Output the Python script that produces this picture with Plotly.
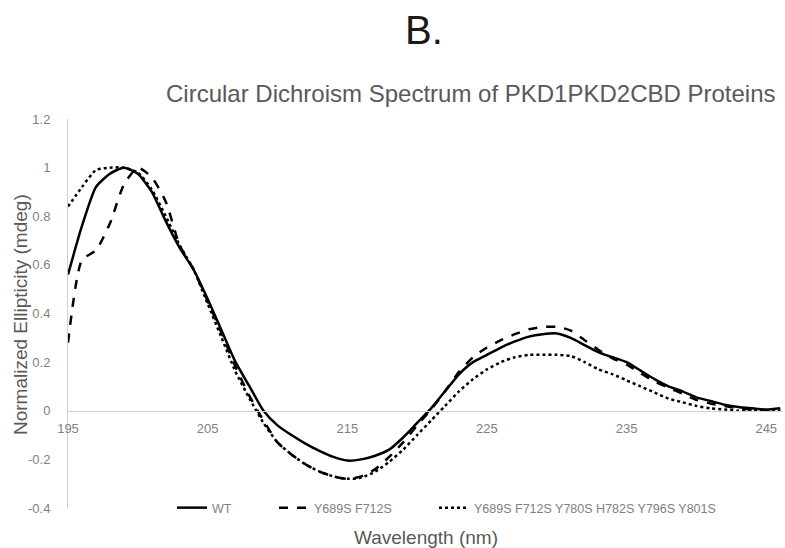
import plotly.graph_objects as go

wavelength = list(range(195, 247))

wt = [0.56, 0.76, 0.92, 0.975, 1.00, 0.975, 0.90, 0.78, 0.67, 0.58,
      0.46, 0.33, 0.20, 0.10, 0.00, -0.06, -0.10, -0.135, -0.165, -0.19,
      -0.205, -0.20, -0.185, -0.16, -0.11, -0.05, 0.01, 0.08, 0.15, 0.20,
      0.23, 0.26, 0.285, 0.305, 0.315, 0.318, 0.30, 0.27, 0.24, 0.22,
      0.20, 0.165, 0.13, 0.10, 0.08, 0.055, 0.04, 0.025, 0.015, 0.01,
      0.005, 0.01]

mut2 = [0.28, 0.62, 0.66, 0.77, 0.93, 1.00, 0.96, 0.86, 0.68, 0.58,
        0.45, 0.32, 0.18, 0.06, -0.04, -0.13, -0.18, -0.22, -0.25, -0.27,
        -0.28, -0.27, -0.24, -0.19, -0.13, -0.06, 0.005, 0.08, 0.16, 0.22,
        0.26, 0.29, 0.315, 0.335, 0.345, 0.345, 0.33, 0.29, 0.25, 0.215,
        0.19, 0.155, 0.12, 0.095, 0.07, 0.045, 0.03, 0.02, 0.01, 0.005,
        0.0, 0.005]

mut6 = [0.84, 0.92, 0.99, 1.00, 1.00, 0.98, 0.91, 0.80, 0.68, 0.58,
        0.44, 0.30, 0.16, 0.05, -0.05, -0.13, -0.18, -0.22, -0.25, -0.27,
        -0.28, -0.275, -0.25, -0.21, -0.16, -0.10, -0.04, 0.02, 0.08, 0.13,
        0.17, 0.20, 0.22, 0.23, 0.23, 0.23, 0.225, 0.20, 0.17, 0.15,
        0.125, 0.10, 0.075, 0.05, 0.035, 0.02, 0.01, 0.005, 0.0, 0.0,
        0.0, 0.0]

names = ["WT", "Y689S F712S", "Y689S F712S Y780S H782S Y796S Y801S"]
yticks = [1.2, 1.0, 0.8, 0.6, 0.4, 0.2, 0.0, -0.2, -0.4]
yticktext = ["1.2", "1", "0.8", "0.6", "0.4", "0.2", "0", "-0.2", "-0.4"]
xticks = [195, 205, 215, 225, 235, 245]

FONT = "Liberation Sans, Arial, sans-serif"
GRAY = "#808080"
DGRAY = "#595959"

W, H = 785, 548
L, R, T, B = 68, 2, 119, 40
PW, PH = W - L - R, H - T - B

fig = go.Figure()
fig.add_trace(go.Scatter(x=wavelength, y=wt, mode="lines", name=names[0],
                         line=dict(color="black", width=2.5, shape="spline", smoothing=0.6),
                         legend="legend"))
fig.add_trace(go.Scatter(x=wavelength, y=mut2, mode="lines", name=names[1],
                         line=dict(color="black", width=2.5, dash="dash", shape="spline", smoothing=0.6),
                         legend="legend2"))
fig.add_trace(go.Scatter(x=wavelength, y=mut6, mode="lines", name=names[2],
                         line=dict(color="black", width=2.5, dash="dot", shape="spline", smoothing=0.6),
                         legend="legend3"))

leg_common = dict(orientation="h", yanchor="middle", xanchor="left",
                  font=dict(family=FONT, size=12.5, color=GRAY),
                  bgcolor="rgba(0,0,0,0)", y=0.0, yref="paper")


def px2paper(px, py):
    return (px - L) / PW, (H - B - py) / PH


def ann(text, px, py, size, color, angle=0):
    x, y = px2paper(px, py)
    return dict(text=text, x=x, y=y, xref="paper", yref="paper",
                xanchor="center", yanchor="middle", showarrow=False,
                textangle=angle, font=dict(family=FONT, size=size, color=color))


fig.update_layout(
    width=W, height=H,
    margin=dict(l=L, r=R, t=T, b=B),
    paper_bgcolor="white", plot_bgcolor="white",
    font=dict(family=FONT, color=GRAY),
    showlegend=True,
    legend=dict(x=px2paper(172, 0)[0], **leg_common),
    legend2=dict(x=px2paper(274, 0)[0], **leg_common),
    legend3=dict(x=px2paper(434, 0)[0], **leg_common),
    xaxis=dict(range=[195, 246.2], tickvals=xticks, showgrid=False,
               zeroline=False, showline=True, linecolor="#d0d0d0", linewidth=1,
               anchor="free", position=0.25, ticks="", ticklabelstandoff=6,
               tickfont=dict(family=FONT, size=13, color=GRAY)),
    yaxis=dict(range=[-0.4, 1.2], tickvals=yticks, ticktext=yticktext,
               showgrid=False, zeroline=False, showline=True,
               linecolor="#d0d0d0", linewidth=1, ticks="", ticklabelstandoff=14,
               tickfont=dict(family=FONT, size=13, color=GRAY)),
    annotations=[
        ann("B.", 424, 30, 40, "#1a1a1a"),
        ann("Circular Dichroism Spectrum of PKD1PKD2CBD Proteins", 471, 93, 24, DGRAY),
        ann("Wavelength (nm)", 426, 537, 19, DGRAY),
        ann("Normalized Ellipticity (mdeg)", 20, 315, 19, DGRAY, angle=-90),
    ],
)

fig.write_html("out.html")
